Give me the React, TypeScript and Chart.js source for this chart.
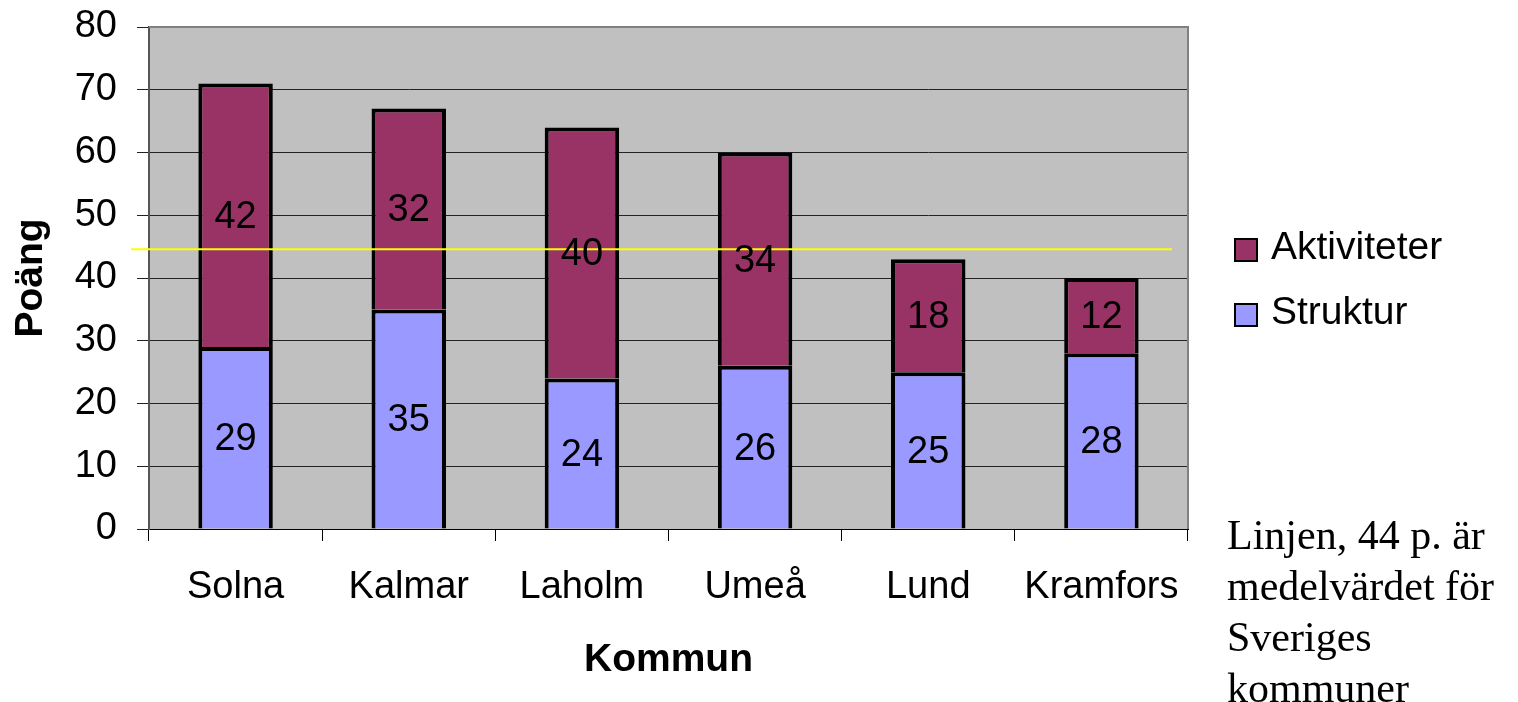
import React, { useEffect, useRef } from "react";
import { Chart, registerables } from "chart.js";

Chart.register(...registerables);

const categories = ["Solna", "Kalmar", "Laholm", "Umeå", "Lund", "Kramfors"];
const strukturValues = [29, 35, 24, 26, 25, 28];
const aktiviteterValues = [42, 32, 40, 34, 18, 12];
const seriesLabels = ["Aktiviteter", "Struktur"];
const yMin = 0;
const yMax = 80;
const yStep = 10;
const meanLineValue = 44.6;
const xTitle = "Kommun";
const yTitle = "Poäng";
const noteLines = ["Linjen, 44 p. är", "medelvärdet för", "Sveriges", "kommuner"];

const SANS = "'Liberation Sans', Arial, sans-serif";

const plotPlugin = {
  id: "plotDecor",
  beforeDraw(chart: any) {
    const { ctx, chartArea: a } = chart;
    ctx.save();
    ctx.fillStyle = "#C0C0C0";
    ctx.fillRect(a.left, a.top, a.right - a.left, a.bottom - a.top);
    ctx.restore();
  },
  afterDatasetsDraw(chart: any) {
    const { ctx, chartArea: a } = chart;
    const yScale = chart.scales.y;
    ctx.save();
    ctx.strokeStyle = "#808080";
    ctx.lineWidth = 2;
    ctx.beginPath();
    ctx.moveTo(a.left, a.top);
    ctx.lineTo(a.right, a.top);
    ctx.lineTo(a.right, a.bottom);
    ctx.stroke();
    ctx.restore();

    const yPix = yScale.getPixelForValue(meanLineValue);
    ctx.save();
    ctx.strokeStyle = "#FFFF00";
    ctx.lineWidth = 2;
    ctx.beginPath();
    ctx.moveTo(a.left - 18, yPix);
    ctx.lineTo(a.right - 16, yPix);
    ctx.stroke();
    ctx.restore();

    ctx.save();
    ctx.fillStyle = "#000";
    ctx.font = `38px ${SANS}`;
    ctx.textAlign = "center";
    ctx.textBaseline = "middle";
    chart.data.datasets.forEach((ds: any, di: number) => {
      const meta = chart.getDatasetMeta(di);
      meta.data.forEach((el: any, i: number) => {
        const c = el.getCenterPoint();
        ctx.fillText(String(ds.data[i]), c.x, c.y + 2);
      });
    });
    ctx.restore();
  },
  afterDraw(chart: any) {
    const { ctx, chartArea: a } = chart;
    const order = [1, 0];
    ctx.save();
    ctx.font = `39px ${SANS}`;
    ctx.textBaseline = "middle";
    ctx.textAlign = "left";
    order.forEach((di, k) => {
      const ds = chart.data.datasets[di];
      const cy = 250 + k * 65;
      const bx = a.right + 47;
      ctx.fillStyle = ds.backgroundColor;
      ctx.fillRect(bx, cy - 11, 22, 22);
      ctx.strokeStyle = "#000";
      ctx.lineWidth = 2;
      ctx.strokeRect(bx, cy - 11, 22, 22);
      ctx.fillStyle = "#000";
      ctx.fillText(ds.label, bx + 36, cy - 2);
    });
    ctx.restore();
  },
};

export default function App() {
  const canvasRef = useRef<HTMLCanvasElement | null>(null);

  useEffect(() => {
    if (!canvasRef.current) return;
    const chart = new Chart(canvasRef.current, {
      type: "bar",
      data: {
        labels: categories,
        datasets: [
          {
            label: seriesLabels[1],
            data: strukturValues,
            backgroundColor: "#9999FF",
            borderColor: "#000000",
            borderWidth: 4,
            categoryPercentage: 1,
            barPercentage: 0.43,
          },
          {
            label: seriesLabels[0],
            data: aktiviteterValues,
            backgroundColor: "#993366",
            borderColor: "#000000",
            borderWidth: 4,
            categoryPercentage: 1,
            barPercentage: 0.43,
          },
        ],
      },
      options: {
        animation: false,
        responsive: true,
        maintainAspectRatio: false,
        layout: { padding: { top: 27, right: 330, left: 0, bottom: 0 } },
        plugins: {
          legend: { display: false },
          tooltip: { enabled: false },
        },
        scales: {
          x: {
            stacked: true,
            grid: {
              offset: true,
              drawOnChartArea: false,
              drawTicks: true,
              tickLength: 12,
              color: "#000",
              lineWidth: 1,
            },
            border: { display: true, color: "#000", width: 1 },
            ticks: {
              color: "#000",
              font: { family: SANS, size: 38 },
              padding: 24,
              maxRotation: 0,
              autoSkip: false,
            },
            title: {
              display: true,
              text: xTitle,
              color: "#000",
              font: { family: SANS, size: 39, weight: "bold" },
              padding: { top: 0, bottom: 18 },
            },
            afterFit: (s: any) => {
              s.height = 173;
              s.paddingLeft = 0;
              s.paddingRight = 0;
            },
          },
          y: {
            stacked: true,
            min: yMin,
            max: yMax,
            ticks: {
              stepSize: yStep,
              color: "#000",
              font: { family: SANS, size: 38 },
              padding: 20,
            },
            grid: {
              color: "#222",
              lineWidth: 1,
              tickLength: 12,
              drawTicks: true,
            },
            border: { display: true, color: "#555", width: 2 },
            title: {
              display: true,
              text: yTitle,
              color: "#000",
              font: { family: SANS, size: 39, weight: "bold" },
              padding: { top: 8, bottom: 0 },
            },
            afterFit: (s: any) => {
              s.width = 149;
              s.paddingTop = 0;
              s.paddingBottom = 0;
            },
          },
        },
      },
      plugins: [plotPlugin],
    });
    return () => chart.destroy();
  }, []);

  return (
    <div style={{ position: "fixed", left: 0, top: 0, width: 1518, height: 702, background: "#fff" }}>
      <canvas ref={canvasRef} style={{ width: 1518, height: 702 }} />
      <div
        style={{
          position: "absolute",
          left: 1227,
          top: 510,
          fontFamily: "'Liberation Serif', 'Times New Roman', serif",
          fontSize: 42,
          lineHeight: "51px",
          color: "#000",
          whiteSpace: "nowrap",
        }}
      >
        {noteLines.map((l, i) => (
          <div key={i}>{l}</div>
        ))}
      </div>
    </div>
  );
}
